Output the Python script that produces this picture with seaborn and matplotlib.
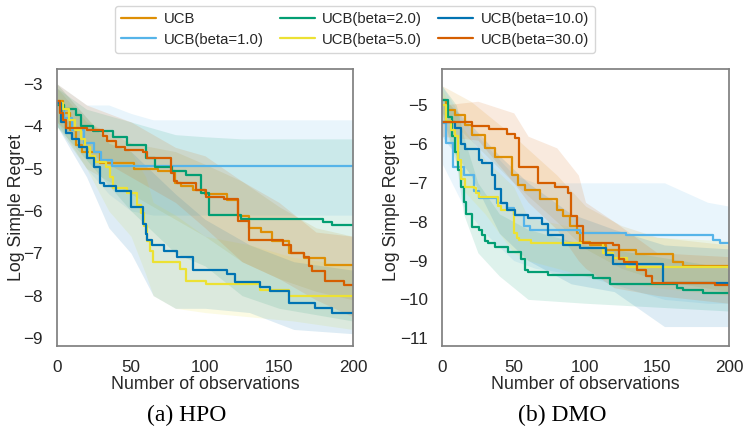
import numpy as np
import pandas as pd
import matplotlib
matplotlib.use("Agg")
import matplotlib.pyplot as plt
import seaborn as sns

# ---------------- data ----------------
series_names = ["UCB", "UCB(beta=1.0)", "UCB(beta=2.0)", "UCB(beta=5.0)",
                "UCB(beta=10.0)", "UCB(beta=30.0)"]
series_colors = ["#de8f05", "#56b4e9", "#029e73", "#ece133", "#0173b2", "#d55e00"]

# ---- HPO (left) : step change points ----
hpo_ucb_x = [0, 4, 9, 13, 17, 29, 52, 68, 80, 84, 92, 100, 115, 122, 130, 138, 145, 157, 167, 181, 200]
hpo_ucb_y = [-3.4, -3.7, -4.1, -4.44, -4.6, -4.87, -5.0, -5.05, -5.35, -5.42, -5.5, -5.6, -5.75,
             -6.13, -6.4, -6.5, -6.7, -6.99, -7.11, -7.27, -7.27]
hpo_b1_x = [0, 5, 10, 18, 25, 30, 37, 200]
hpo_b1_y = [-3.5, -3.8, -4.1, -4.4, -4.6, -4.8, -4.95, -4.95]
hpo_b2_x = [0, 5, 13, 16, 24, 38, 47, 60, 66, 78, 87, 97, 103, 124, 180, 186, 200]
hpo_b2_y = [-3.5, -3.6, -3.73, -4.0, -4.12, -4.25, -4.45, -4.75, -4.97, -5.05, -5.15, -5.57,
            -6.09, -6.18, -6.26, -6.34, -6.34]
hpo_b5_x = [0, 4, 8, 12, 16, 19, 22, 26, 33, 36, 38, 47, 54, 57, 59, 61, 63, 65, 83, 87, 101,
            137, 157, 200]
hpo_b5_y = [-3.45, -3.6, -3.85, -4.1, -4.3, -4.5, -4.7, -4.85, -4.97, -5.2, -5.45, -5.57, -5.85,
            -6.05, -6.35, -6.7, -6.95, -7.2, -7.37, -7.66, -7.72, -7.86, -8.02, -8.02]
hpo_b10_x = [0, 3, 6, 10, 15, 20, 25, 29, 32, 40, 50, 58, 60, 61, 64, 72, 81, 92, 115, 120,
             137, 144, 157, 174, 186, 200]
hpo_b10_y = [-3.45, -3.9, -4.15, -4.3, -4.5, -4.75, -4.97, -5.34, -5.41, -5.54, -5.9, -6.3,
             -6.55, -6.69, -6.8, -6.95, -7.1, -7.39, -7.48, -7.68, -7.8, -7.88, -8.17, -8.29,
             -8.41, -8.41]
hpo_b30_x = [0, 2, 4, 6, 20, 31, 34, 40, 46, 58, 61, 77, 79, 81, 94, 101, 113, 122, 130, 153,
             158, 167, 170, 172, 181, 194, 200]
hpo_b30_y = [-3.4, -3.7, -3.85, -4.05, -4.1, -4.24, -4.36, -4.5, -4.56, -4.62, -4.75, -5.1,
             -5.3, -5.34, -5.5, -5.67, -5.72, -6.25, -6.68, -6.8, -6.99, -7.1, -7.3, -7.43,
             -7.66, -7.76, -7.76]

# ---- HPO bands (x, lower, upper) ----
hpo_ucb_bx = [0, 20, 50, 80, 100, 125, 150, 175, 200]
hpo_ucb_lo = [-3.9, -5.0, -5.6, -6.2, -6.6, -7.2, -7.6, -7.9, -8.1]
hpo_ucb_hi = [-3.1, -3.9, -4.4, -4.6, -4.9, -5.3, -5.9, -6.4, -6.6]
hpo_b1_bx = [0, 20, 35, 50, 65, 200]
hpo_b1_lo = [-4.0, -5.0, -5.6, -6.0, -6.1, -6.1]
hpo_b1_hi = [-3.0, -3.5, -3.5, -3.7, -3.85, -3.85]
hpo_b2_bx = [0, 20, 50, 80, 100, 125, 150, 200]
hpo_b2_lo = [-4.0, -4.8, -6.0, -7.0, -7.3, -8.0, -8.3, -8.6]
hpo_b2_hi = [-3.1, -3.6, -3.9, -4.2, -4.25, -4.3, -4.3, -4.3]
hpo_b5_bx = [0, 20, 35, 50, 60, 65, 80, 100, 130, 160, 200]
hpo_b5_lo = [-4.0, -5.0, -6.0, -6.6, -7.5, -8.0, -8.3, -8.4, -8.5, -8.6, -8.8]
hpo_b5_hi = [-3.0, -3.8, -4.3, -4.6, -5.2, -5.8, -6.1, -6.6, -6.8, -7.1, -7.3]
hpo_b10_bx = [0, 20, 35, 50, 65, 80, 100, 130, 160, 200]
hpo_b10_lo = [-4.0, -5.2, -6.4, -7.0, -8.0, -8.3, -8.3, -8.4, -8.8, -8.9]
hpo_b10_hi = [-3.0, -3.8, -4.4, -4.6, -5.1, -5.6, -6.2, -6.8, -7.2, -7.4]
hpo_b30_bx = [0, 20, 50, 80, 100, 125, 150, 175, 200]
hpo_b30_lo = [-3.9, -4.6, -5.2, -5.8, -6.4, -7.2, -7.6, -8.1, -8.5]
hpo_b30_hi = [-3.0, -3.5, -3.9, -4.5, -4.7, -5.3, -5.8, -6.5, -6.6]

# ---- DMO (right) : step change points ----
dmo_ucb_x = [0, 3, 9, 16, 21, 30, 37, 49, 53, 58, 68, 80, 84, 89, 94, 96, 103, 114, 135, 161, 168, 200]
dmo_ucb_y = [-4.87, -5.13, -5.25, -5.5, -5.77, -6.1, -6.34, -6.8, -7.05, -7.19, -7.42, -7.7,
             -7.85, -8.1, -8.3, -8.52, -8.6, -8.73, -8.82, -9.03, -9.15, -9.15]
dmo_b1_x = [0, 3, 8, 15, 22, 26, 38, 45, 50, 57, 61, 96, 128, 189, 194, 200]
dmo_b1_y = [-5.46, -5.98, -6.6, -6.8, -7.2, -7.4, -7.53, -7.65, -7.83, -8.1, -8.22, -8.3, -8.34,
            -8.47, -8.54, -8.54]
dmo_b2_x = [0, 4, 7, 9, 11, 13, 15, 17, 21, 26, 28, 30, 32, 37, 46, 55, 58, 60, 74, 105, 117,
            164, 168, 182, 200]
dmo_b2_y = [-4.87, -5.3, -5.8, -6.2, -6.67, -7.1, -7.5, -7.8, -8.14, -8.22, -8.35, -8.5, -8.56,
            -8.66, -8.78, -8.95, -9.25, -9.3, -9.38, -9.45, -9.6, -9.7, -9.76, -9.83, -9.83]
dmo_b5_x = [0, 3, 6, 9, 11, 13, 16, 22, 24, 26, 39, 41, 50, 52, 54, 62, 90, 112, 119, 129, 200]
dmo_b5_y = [-5.0, -5.4, -5.65, -5.8, -6.4, -6.9, -7.1, -7.13, -7.25, -7.37, -7.6, -7.7, -8.3,
            -8.42, -8.48, -8.54, -8.56, -8.81, -8.94, -9.16, -9.16]
dmo_b10_x = [0, 9, 13, 16, 26, 28, 35, 37, 41, 45, 51, 60, 70, 74, 84, 96, 114, 119, 154, 200]
dmo_b10_y = [-5.43, -5.6, -6.0, -6.12, -6.42, -6.5, -6.8, -7.15, -7.52, -7.7, -7.83, -7.91,
             -8.05, -8.35, -8.6, -8.69, -8.86, -9.08, -9.59, -9.62]
dmo_b30_x = [0, 21, 33, 45, 51, 54, 65, 67, 79, 88, 90, 94, 98, 119, 123, 127, 136, 142, 146, 190, 200]
dmo_b30_y = [-5.43, -5.55, -5.62, -5.75, -5.85, -6.59, -6.6, -7.0, -7.1, -7.25, -7.85, -8.1,
             -8.55, -8.6, -8.95, -9.03, -9.25, -9.4, -9.57, -9.62, -9.62]

# ---- DMO bands ----
dmo_ucb_bx = [0, 20, 50, 80, 100, 125, 150, 200]
dmo_ucb_lo = [-5.2, -5.9, -7.0, -8.0, -8.7, -9.2, -9.5, -9.8]
dmo_ucb_hi = [-4.5, -4.9, -5.8, -6.8, -7.6, -8.1, -8.4, -8.6]
dmo_b1_bx = [0, 15, 30, 50, 65, 100, 155, 185, 200]
dmo_b1_lo = [-6.5, -7.6, -8.3, -9.0, -9.2, -9.4, -10.0, -10.1, -10.1]
dmo_b1_hi = [-4.5, -5.4, -6.0, -6.8, -7.0, -7.0, -7.0, -7.5, -7.6]
dmo_b2_bx = [0, 10, 15, 25, 40, 60, 100, 150, 200]
dmo_b2_lo = [-5.2, -6.5, -7.8, -8.8, -9.4, -10.0, -10.1, -10.2, -10.3]
dmo_b2_hi = [-4.5, -5.0, -5.8, -7.0, -7.8, -8.2, -8.6, -8.9, -9.2]
dmo_b5_bx = [0, 15, 30, 50, 60, 100, 150, 200]
dmo_b5_lo = [-5.3, -7.2, -7.8, -8.8, -9.0, -9.4, -9.7, -9.9]
dmo_b5_hi = [-4.6, -5.6, -6.4, -7.1, -7.9, -8.2, -8.4, -8.5]
dmo_b10_bx = [0, 20, 40, 60, 90, 120, 155, 200]
dmo_b10_lo = [-5.8, -6.8, -8.3, -9.0, -9.6, -9.8, -10.7, -10.7]
dmo_b10_hi = [-4.8, -5.5, -6.3, -7.0, -7.8, -8.2, -8.6, -8.7]
dmo_b30_bx = [0, 25, 50, 60, 80, 95, 100, 120, 150, 200]
dmo_b30_lo = [-5.8, -5.9, -7.0, -7.5, -8.2, -9.0, -9.2, -9.7, -9.9, -10.1]
dmo_b30_hi = [-5.0, -4.9, -5.2, -5.8, -6.1, -6.8, -7.5, -8.0, -8.8, -8.9]

x_ticks = [0, 50, 100, 150, 200]
hpo_yticks = [-3, -4, -5, -6, -7, -8, -9]
dmo_yticks = [-5, -6, -7, -8, -9, -10, -11]
x_label = "Number of observations"
y_label = "Log Simple Regret"
captions = ["(a) HPO", "(b) DMO"]

hpo_lines = [(hpo_ucb_x, hpo_ucb_y), (hpo_b1_x, hpo_b1_y), (hpo_b2_x, hpo_b2_y),
             (hpo_b5_x, hpo_b5_y), (hpo_b10_x, hpo_b10_y), (hpo_b30_x, hpo_b30_y)]
hpo_bands = [(hpo_ucb_bx, hpo_ucb_lo, hpo_ucb_hi), (hpo_b1_bx, hpo_b1_lo, hpo_b1_hi),
             (hpo_b2_bx, hpo_b2_lo, hpo_b2_hi), (hpo_b5_bx, hpo_b5_lo, hpo_b5_hi),
             (hpo_b10_bx, hpo_b10_lo, hpo_b10_hi), (hpo_b30_bx, hpo_b30_lo, hpo_b30_hi)]
dmo_lines = [(dmo_ucb_x, dmo_ucb_y), (dmo_b1_x, dmo_b1_y), (dmo_b2_x, dmo_b2_y),
             (dmo_b5_x, dmo_b5_y), (dmo_b10_x, dmo_b10_y), (dmo_b30_x, dmo_b30_y)]
dmo_bands = [(dmo_ucb_bx, dmo_ucb_lo, dmo_ucb_hi), (dmo_b1_bx, dmo_b1_lo, dmo_b1_hi),
             (dmo_b2_bx, dmo_b2_lo, dmo_b2_hi), (dmo_b5_bx, dmo_b5_lo, dmo_b5_hi),
             (dmo_b10_bx, dmo_b10_lo, dmo_b10_hi), (dmo_b30_bx, dmo_b30_lo, dmo_b30_hi)]

# ---------------- plot ----------------
sns.set_theme(style="white")
plt.rcParams["font.family"] = ["Liberation Sans", "DejaVu Sans"]
plt.rcParams["text.color"] = "0.15"

fig = plt.figure(figsize=(7.45, 4.34), dpi=100)
ax1 = fig.add_axes([57 / 745, 1 - 346 / 434, 296 / 745, 277 / 434])
ax2 = fig.add_axes([442 / 745, 1 - 346 / 434, 287 / 745, 277 / 434])


def draw(ax, lines, bands, ylim, yticks, ylabel_x):
    for (bx, lo, hi), col in zip(bands, series_colors):
        ax.fill_between(bx, lo, hi, color=col, alpha=0.13, linewidth=0)
    for (lx, ly), col, name in zip(lines, series_colors, series_names):
        df = pd.DataFrame({"x": lx, "y": ly})
        sns.lineplot(data=df, x="x", y="y", ax=ax, color=col, linewidth=1.6,
                     drawstyle="steps-post", estimator=None, label=name, legend=False)
    ax.set_xlim(0, 200)
    ax.set_ylim(*ylim)
    ax.set_xticks(x_ticks)
    ax.set_yticks(yticks)
    ax.tick_params(labelsize=12.3, colors="0.15", pad=4)
    ax.set_xlabel(x_label, fontsize=12.75, labelpad=1)
    ax.set_ylabel(y_label, fontsize=12.75)
    ax.yaxis.set_label_coords(ylabel_x, 0.5)
    for sp in ax.spines.values():
        sp.set_color("0.5")
        sp.set_linewidth(1.25)


draw(ax1, hpo_lines, hpo_bands, (-9.19, -2.65), hpo_yticks, (25 - 57) / 296)
draw(ax2, dmo_lines, dmo_bands, (-11.2, -4.07), dmo_yticks, (400 - 442) / 287)

handles = ax1.get_lines()[:6]
fig.legend(handles, series_names, ncol=3, loc="upper center",
           bbox_to_anchor=(355 / 745, 1 - 6 / 434), fontsize=10.7, frameon=True,
           handlelength=2.35, handletextpad=0.5, columnspacing=1.1, labelspacing=0.45,
           borderpad=0.4, borderaxespad=0, edgecolor="0.8", fancybox=True)

fig.text(187 / 745, 1 - 415 / 434, captions[0], ha="center", va="center",
         fontsize=17, family="Liberation Serif", color="black")
fig.text(562 / 745, 1 - 415 / 434, captions[1], ha="center", va="center",
         fontsize=17, family="Liberation Serif", color="black")

fig.savefig("out.png", dpi=100)
